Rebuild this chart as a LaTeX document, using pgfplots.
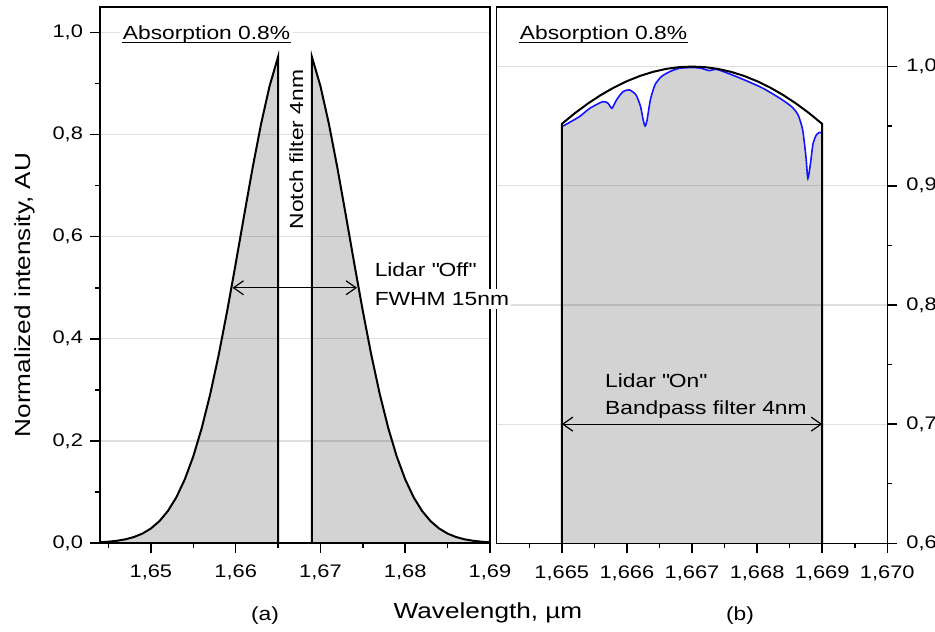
\documentclass[border=0pt]{standalone}
\usepackage{fontspec}
\setmainfont[FakeStretch=1.2]{Liberation Sans}
\usepackage{pgfplots}
\pgfplotsset{compat=1.18}
\usetikzlibrary{arrows.meta}
\definecolor{fillgray}{RGB}{211,211,211}
\definecolor{lineblue}{RGB}{20,20,255}
\newcommand{\annfont}{\fontsize{9.5}{11}\selectfont}
\newcommand{\labfont}{\fontsize{10.9}{13}\selectfont}
\newcommand{\dq}{\XeTeXglyph\XeTeXcharglyph"22\relax}
\tikzset{barb/.style={{Straight Barb[length=5pt,width=7pt]}-{Straight Barb[length=5pt,width=7pt]}, line width=0.6pt}}
\pgfplotsset{
  panel/.style={
    scale only axis, anchor=south west,
    axis line style={black, line width=0.75pt},
    tick align=outside, major tick length=5pt, minor tick length=2.5pt,
    tick style={black, line width=0.75pt},
    ymajorgrids, grid style={black, opacity=0.12, line width=0.6pt},
    axis on top,
    tick label style={font=\fontsize{9.1}{11}\selectfont},
    scaled x ticks=false, scaled y ticks=false,
  },
}
\begin{document}
\begin{tikzpicture}
\useasboundingbox (0,0) rectangle (467.5pt,315.5pt);
% ---------------- left panel (a)
\begin{axis}[panel, at={(50pt,44pt)}, width=195pt, height=268pt,
  xmin=1.644, xmax=1.69, ymin=0, ymax=1.05,
  xtick={1.65,1.66,1.67,1.68,1.69}, minor xtick={1.645,1.655,1.665,1.675,1.685},
  ytick={0,0.2,0.4,0.6,0.8,1.0}, minor ytick={0.1,0.3,0.5,0.7,0.9},
  xtick pos=left, ytick pos=left,
  xticklabel style={yshift=-2.5pt, /pgf/number format/.cd, fixed, fixed zerofill, precision=2, use comma, assume math mode=true},
  yticklabel style={/pgf/number format/.cd, fixed, fixed zerofill, precision=1, use comma, assume math mode=true},
]
\addplot[draw=none, fill=fillgray] coordinates {
 (1.644,0) (1.644,0.00148) (1.645,0.00257) (1.646,0.00436) (1.647,0.00723)
 (1.648,0.01169) (1.649,0.01845) (1.650,0.02841) (1.651,0.04266) (1.652,0.06250)
 (1.653,0.08934) (1.654,0.12461) (1.655,0.16956) (1.656,0.22514) (1.657,0.29163)
 (1.658,0.36856) (1.659,0.45445) (1.660,0.54674) (1.661,0.64170) (1.662,0.73487)
 (1.663,0.82105) (1.664,0.89502) (1.665,0.95190) (1.665,0)} --cycle;
\addplot[draw=none, fill=fillgray] coordinates {
 (1.669,0) (1.669,0.95190) (1.670,0.89502) (1.671,0.82105) (1.672,0.73487)
 (1.673,0.64170) (1.674,0.54674) (1.675,0.45445) (1.676,0.36856) (1.677,0.29163)
 (1.678,0.22514) (1.679,0.16956) (1.680,0.12461) (1.681,0.08934) (1.682,0.06250)
 (1.683,0.04266) (1.684,0.02841) (1.685,0.01845) (1.686,0.01169) (1.687,0.00723)
 (1.688,0.00436) (1.689,0.00257) (1.690,0.00148) (1.690,0)} --cycle;
\addplot[black, line width=1pt] coordinates {
 (1.644,0.00148) (1.645,0.00257) (1.646,0.00436) (1.647,0.00723)
 (1.648,0.01169) (1.649,0.01845) (1.650,0.02841) (1.651,0.04266) (1.652,0.06250)
 (1.653,0.08934) (1.654,0.12461) (1.655,0.16956) (1.656,0.22514) (1.657,0.29163)
 (1.658,0.36856) (1.659,0.45445) (1.660,0.54674) (1.661,0.64170) (1.662,0.73487)
 (1.663,0.82105) (1.664,0.89502) (1.665,0.95190) (1.665,0)};
\addplot[black, line width=1pt] coordinates {
 (1.669,0) (1.669,0.95190) (1.670,0.89502) (1.671,0.82105) (1.672,0.73487)
 (1.673,0.64170) (1.674,0.54674) (1.675,0.45445) (1.676,0.36856) (1.677,0.29163)
 (1.678,0.22514) (1.679,0.16956) (1.680,0.12461) (1.681,0.08934) (1.682,0.06250)
 (1.683,0.04266) (1.684,0.02841) (1.685,0.01845) (1.686,0.01169) (1.687,0.00723)
 (1.688,0.00436) (1.689,0.00257) (1.690,0.00148)};
\draw[barb] (axis cs:1.65963,0.5) -- (axis cs:1.67432,0.5);
\node[rotate=90, font=\annfont, inner sep=0pt] at (axis cs:1.66715,0.7706) {Notch filter 4nm};
\node[font=\annfont, inner sep=0pt, anchor=base west] at (axis cs:1.67636,0.5216) {Lidar \dq Off\dq};
\coordinate (fwhm) at (axis cs:1.67636,0.4653);
\coordinate (absA) at (axis cs:1.64665,0.9863);
\end{axis}
% ---------------- right panel (b)
\begin{axis}[panel, at={(248.35pt,43.85pt)}, width=195.3pt, height=268.15pt,
  xmin=1.664, xmax=1.670, ymin=0.6, ymax=1.05,
  xtick={1.665,1.666,1.667,1.668,1.669,1.670},
  minor xtick={1.6645,1.6655,1.6665,1.6675,1.6685,1.6695},
  ytick={0.6,0.7,0.8,0.9,1.0}, minor ytick={0.65,0.75,0.85,0.95},
  xtick pos=left, ytick pos=right, yticklabel pos=right,
  xticklabel style={yshift=-2.5pt, /pgf/number format/.cd, fixed, fixed zerofill, precision=3, use comma, assume math mode=true},
  yticklabel style={xshift=1pt, /pgf/number format/.cd, fixed, fixed zerofill, precision=1, use comma, assume math mode=true},
]
\addplot[draw=none, fill=fillgray] coordinates {
 (1.665,0.6) (1.66502,0.9501) (1.66527,0.9580) (1.66543,0.9650) (1.66563,0.9706)
 (1.66571,0.9692) (1.66577,0.9650) (1.66584,0.9720) (1.66594,0.9790) (1.66604,0.9804)
 (1.66614,0.9762) (1.66621,0.9664) (1.66625,0.9552) (1.66628,0.9501) (1.66631,0.9552)
 (1.66636,0.9720) (1.66643,0.9846) (1.66653,0.9916) (1.66666,0.9958) (1.66681,0.9986)
 (1.66702,0.9992) (1.66714,0.9986) (1.66727,0.9966) (1.66737,0.9978) (1.66758,0.9938)
 (1.66784,0.9880) (1.66809,0.9818) (1.66835,0.9734) (1.66853,0.9664) (1.66863,0.9594)
 (1.66870,0.9468) (1.66875,0.9244) (1.66878,0.9062) (1.66882,0.9188) (1.66886,0.9356)
 (1.66891,0.9426) (1.66896,0.9448) (1.66900,0.9440) (1.669,0.6)} --cycle;
\addplot[lineblue, line width=0.8pt, smooth, tension=0.4] coordinates {
 (1.66502,0.9501) (1.66527,0.9580) (1.66543,0.9650) (1.66563,0.9706)
 (1.66571,0.9692) (1.66577,0.9650) (1.66584,0.9720) (1.66594,0.9790) (1.66604,0.9804)
 (1.66614,0.9762) (1.66621,0.9664) (1.66625,0.9552) (1.66628,0.9501) (1.66631,0.9552)
 (1.66636,0.9720) (1.66643,0.9846) (1.66653,0.9916) (1.66666,0.9958) (1.66681,0.9986)
 (1.66702,0.9992) (1.66714,0.9986) (1.66727,0.9966) (1.66737,0.9978) (1.66758,0.9938)
 (1.66784,0.9880) (1.66809,0.9818) (1.66835,0.9734) (1.66853,0.9664) (1.66863,0.9594)
 (1.66870,0.9468) (1.66875,0.9244) (1.66878,0.9062) (1.66882,0.9188) (1.66886,0.9356)
 (1.66891,0.9426) (1.66896,0.9448) (1.66900,0.9440)};
\addplot[black, line width=1pt] coordinates {
 (1.665,0.6) (1.6650,0.95190) (1.6652,0.96086) (1.6654,0.96895) (1.6656,0.97614)
 (1.6658,0.98241) (1.6660,0.98775) (1.6662,0.99214) (1.6664,0.99557) (1.6666,0.99803)
 (1.6668,0.99951) (1.6670,1.00000) (1.6672,0.99951) (1.6674,0.99803) (1.6676,0.99557)
 (1.6678,0.99214) (1.6680,0.98775) (1.6682,0.98241) (1.6684,0.97614) (1.6686,0.96895)
 (1.6688,0.96086) (1.6690,0.95190) (1.669,0.6)};
\draw[barb] (axis cs:1.665,0.7) -- (axis cs:1.669,0.7);
\node[font=\annfont, inner sep=0pt, anchor=base west] at (axis cs:1.66566,0.7306) {Lidar \dq On\dq};
\node[font=\annfont, inner sep=0pt, anchor=base west] at (axis cs:1.66566,0.7079) {Bandpass filter 4nm};
\node[font=\annfont, inner sep=0pt, anchor=base west] (absB) at (axis cs:1.66435,1.0224) {Absorption 0.8\%};
\draw[line width=0.6pt] ([yshift=-1.3pt]absB.base west) -- ([yshift=-1.3pt]absB.base east);
\end{axis}
% ---------------- annotations over both panels
\node[font=\annfont, fill=white, inner xsep=1pt, inner ysep=1.5pt, anchor=base west, xshift=-1pt] at (fwhm) {FWHM 15nm};
\node[font=\annfont, fill=white, inner xsep=1.5pt, inner ysep=2pt, anchor=base west, xshift=-1.5pt] (absAn) at (absA) {Absorption 0.8\%};
\draw[line width=0.6pt] ([xshift=1.5pt,yshift=-1.3pt]absAn.base west) -- ([xshift=-1.5pt,yshift=-1.3pt]absAn.base east);
\node[font=\labfont] at (244pt,9pt) {Wavelength, µm};
\node[font=\labfont, rotate=90] at (12.5pt,168pt) {Normalized intensity, AU};
\node[font=\annfont] at (132.5pt,7.5pt) {(a)};
\node[font=\annfont] at (370pt,7.5pt) {(b)};
\end{tikzpicture}
\end{document}
